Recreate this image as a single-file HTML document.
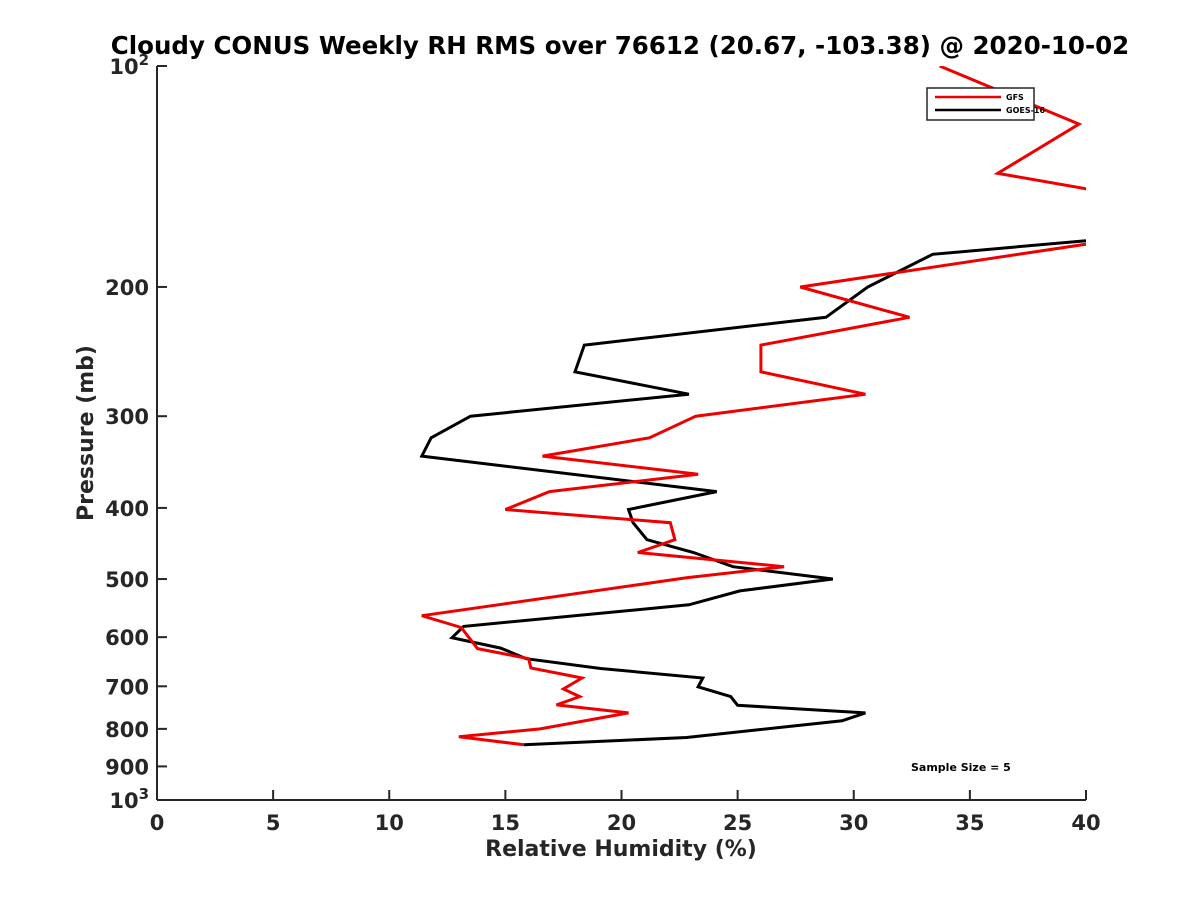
<!DOCTYPE html>
<html><head><meta charset="utf-8"><style>
body{margin:0;background:#fff;}
svg{display:block;font-family:"Liberation Sans","DejaVu Sans",sans-serif;font-weight:bold;}
</style></head><body>
<svg id="chart" width="1200" height="900" viewBox="0 0 1200 900" xmlns="http://www.w3.org/2000/svg">
<rect width="1200" height="900" fill="#fff"/>
<text x="620" y="54" text-anchor="middle" font-size="24.5" fill="#000" font-family="DejaVu Sans, sans-serif" font-weight="bold">Cloudy CONUS Weekly RH RMS over 76612 (20.67, -103.38) @ 2020-10-02</text>
<defs><clipPath id="plotclip"><rect x="157" y="66" width="929" height="734"/></clipPath></defs>
<g id="axes"></g>
<g id="series" clip-path="url(#plotclip)"></g>
<g>
<rect x="927" y="88" width="107" height="32" fill="#fff" stroke="#262626" stroke-width="1.5"/>
<line x1="935" y1="97" x2="1001" y2="97" stroke="#e00" stroke-width="2.5"/>
<text x="1006" y="100" font-size="8" font-family="DejaVu Sans, sans-serif" fill="#000">GFS</text>
<line x1="935" y1="110" x2="1001" y2="110" stroke="#000" stroke-width="2.5"/>
<text x="1006" y="113" font-size="8" font-family="DejaVu Sans, sans-serif" fill="#000">GOES-16</text>
</g>
<text x="911" y="771" font-size="11" font-family="DejaVu Sans, sans-serif" fill="#000">Sample Size = 5</text>
<text x="621" y="856" text-anchor="middle" font-size="22" fill="#262626" font-family="DejaVu Sans, sans-serif">Relative Humidity (%)</text>
<text transform="translate(93,433) rotate(-90)" text-anchor="middle" font-size="22" fill="#262626" font-family="DejaVu Sans, sans-serif">Pressure (mb)</text>
</svg>
<script>
const gfsPressure = [100,120,140,147,160,173,200,220,240,261,280,300,321,340,360,380,402,419,442,460,481,498,561,582,622,642,661,682,706,723,742,761,800,820,841];
const gfsRH = [33.7,39.7,36.2,40,46,41,27.7,32.4,26.0,26.0,30.5,23.2,21.2,16.6,23.3,16.9,15.0,22.1,22.3,20.7,27.0,22.8,11.4,13.1,13.8,16.0,16.1,18.3,17.5,18.2,17.2,20.3,16.5,13.0,15.8];
const goesPressure = [173,180.5,200,220,240,261,280,300,321,340,380,402,419,442,460,481,500,519,542,580,601,621,642,662,682,701,723,743,761,780,822,841];
const goesRH = [40,33.4,30.6,28.8,18.4,18.0,22.9,13.5,11.8,11.4,24.1,20.3,20.5,21.1,23.1,24.8,29.1,25.1,22.9,13.2,12.7,14.8,15.9,19.1,23.5,23.3,24.7,25.0,30.5,29.5,22.8,15.8];
const xTicks = [0,5,10,15,20,25,30,35,40];
const yTicks = [100,200,300,400,500,600,700,800,900,1000];
const yTickLabels = ["10²","200","300","400","500","600","700","800","900","10³"];

const X0=157,X1=1086,Y0=66,Y1=800;
function xs(v){return X0+(v-0)/(40-0)*(X1-X0);}
function ys(p){return Y0+(Math.log10(p)-2)*(Y1-Y0);}
const NS="http://www.w3.org/2000/svg";
const axes=document.getElementById('axes'), series=document.getElementById('series');
function mk(tag,attrs,parent){const e=document.createElementNS(NS,tag);for(const k in attrs)e.setAttribute(k,attrs[k]);parent.appendChild(e);return e;}

let a=mk('line',{x1:X0,y1:Y1,x2:X1,y2:Y1,stroke:'#262626','stroke-width':2},axes);


a=mk('line',{x1:X0,y1:Y0,x2:X0,y2:Y1,stroke:'#262626','stroke-width':2},axes);


xTicks.forEach(v=>{
  const t=mk('line',{x1:xs(v),y1:Y1,x2:xs(v),y2:Y1-10,stroke:'#262626','stroke-width':2},axes);
  
  
  const l=mk('text',{x:xs(v),y:Y1+30,'text-anchor':'middle','font-size':21,fill:'#262626','font-family':'DejaVu Sans, sans-serif'},axes);
  l.textContent=v;
  
  
});
yTicks.forEach((p,i)=>{
  const t=mk('line',{x1:X0,y1:ys(p),x2:X0+10,y2:ys(p),stroke:'#262626','stroke-width':2},axes);
  
  
  const l=mk('text',{x:X0-8,y:ys(p)+8,'text-anchor':'end','font-size':21,fill:'#262626','font-family':'DejaVu Sans, sans-serif'},axes);
  
  
  const lab=yTickLabels[i];
  if(lab.length===3 && lab.startsWith('10') && (lab[2]==='²'||lab[2]==='³')){
    l.textContent='10';
    const s=mk('tspan',{dy:-9,'font-size':15},l);s.textContent=lab[2]==='²'?'2':'3';
  } else l.textContent=lab;
});
function draw(P,R,color,name){
  const d=P.map((p,i)=>(i?'L':'M')+xs(R[i]).toFixed(1)+','+ys(p).toFixed(1)).join('');
  const e=mk('path',{d:d,fill:'none',stroke:color,'stroke-width':3,'stroke-linejoin':'miter'},series);
  
  
}
draw(goesPressure,goesRH,'#000','goes16-line');
draw(gfsPressure,gfsRH,'#e00','gfs-line');
</script>
</body></html>
